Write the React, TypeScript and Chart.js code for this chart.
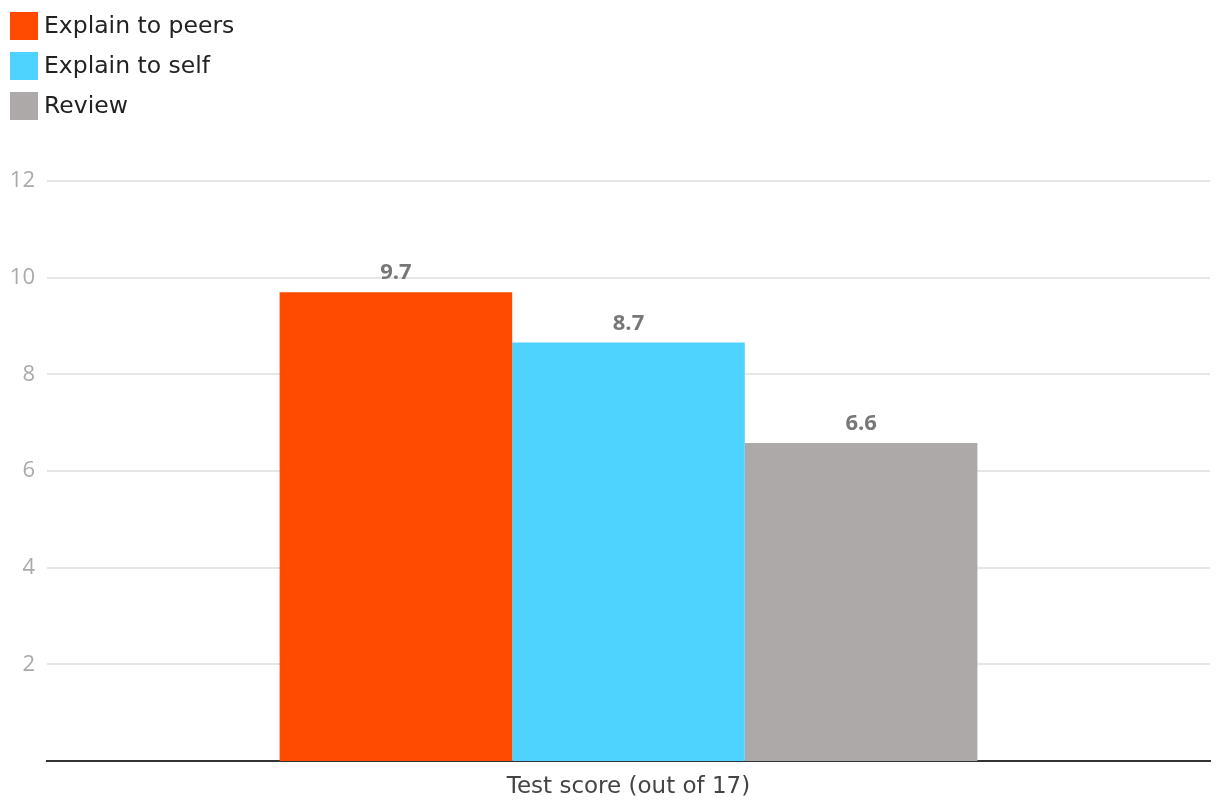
import React, { useEffect, useRef } from "react";
import { Chart, registerables } from "chart.js";

Chart.register(...registerables);

const categories = ["Test score (out of 17)"];
const seriesNames = ["Explain to peers", "Explain to self", "Review"];
const seriesValues = [[9.7], [8.66], [6.58]];
const seriesColors = ["#FF4B00", "#4ED2FF", "#ADA9A8"];
const yTicks = [2, 4, 6, 8, 10, 12];

const FONT = "'Open Sans', Lato, sans-serif";
const WIDE = "'DejaVu Sans', sans-serif";

const legendPlugin = {
  id: "customLegend",
  afterDraw(chart: any) {
    const ctx = chart.ctx;
    ctx.save();
    chart.data.datasets.forEach((ds: any, i: number) => {
      const y = 12 + i * 40;
      ctx.fillStyle = ds.backgroundColor;
      ctx.fillRect(10, y, 28, 28);
      ctx.fillStyle = "#222";
      ctx.font = `23.5px ${WIDE}`;
      ctx.textBaseline = "middle";
      ctx.textAlign = "left";
      ctx.fillText(ds.label, 44, y + 15);
    });
    ctx.restore();
  },
};

const valueLabelPlugin = {
  id: "valueLabels",
  afterDatasetsDraw(chart: any) {
    const ctx = chart.ctx;
    ctx.save();
    ctx.font = `bold 22px ${FONT}`;
    ctx.fillStyle = "#777";
    ctx.textAlign = "center";
    ctx.textBaseline = "middle";
    chart.data.datasets.forEach((ds: any, i: number) => {
      const meta = chart.getDatasetMeta(i);
      meta.data.forEach((bar: any, j: number) => {
        const v = ds.data[j];
        ctx.fillText(Number(v).toFixed(1), bar.x, bar.y - 19);
      });
    });
    ctx.restore();
  },
};

export default function App() {
  const ref = useRef<HTMLCanvasElement>(null);
  useEffect(() => {
    document.body.style.margin = "0";
    const chart = new Chart(ref.current!, {
      type: "bar",
      data: {
        labels: categories,
        datasets: seriesNames.map((name, i) => ({
          label: name,
          data: seriesValues[i],
          backgroundColor: seriesColors[i],
          borderWidth: 0,
          categoryPercentage: 0.6,
          barPercentage: 1.0,
        })),
      },
      options: {
        animation: false,
        responsive: false,
        maintainAspectRatio: false,
        layout: { padding: { top: 181, right: 10, left: 0, bottom: 0 } },
        plugins: { legend: { display: false }, tooltip: { enabled: false } },
        scales: {
          x: {
            grid: { display: false, drawTicks: false },
            border: { display: true, color: "#333", width: 2 },
            ticks: { color: "#444", font: { family: WIDE, size: 23 }, padding: 12 },
            afterFit: (s: any) => { s.height = 51; },
          },
          y: {
            min: 0,
            max: 12,
            afterBuildTicks: (s: any) => { s.ticks = yTicks.map((v) => ({ value: v })); },
            grid: { color: "#e6e6e6", lineWidth: 2, drawTicks: false },
            border: { display: false },
            ticks: { color: "#aaa", font: { family: FONT, size: 22 }, padding: 12 },
            afterFit: (s: any) => { s.width = 47; },
          },
        },
      },
      plugins: [legendPlugin, valueLabelPlugin],
    });
    return () => chart.destroy();
  }, []);
  return <canvas ref={ref} width={1220} height={812} style={{ display: "block" }} />;
}
